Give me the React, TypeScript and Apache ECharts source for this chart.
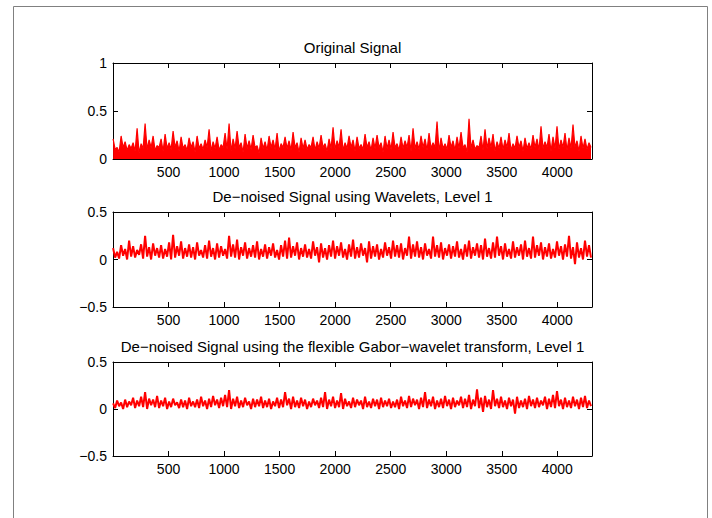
import React, { useEffect, useRef } from "react";
import * as echarts from "echarts";

const TITLES = [
  "Original Signal",
  "De\u2212noised Signal using Wavelets, Level 1",
  "De\u2212noised Signal using the flexible Gabor\u2212wavelet transform, Level 1",
];

const X_MIN = 0;
const X_MAX = 4312;
const X_INTERVAL = 500;
const SAMPLE_STEP = 18;

const Y_RANGES: [number, number][] = [
  [0, 1],
  [-0.5, 0.5],
  [-0.5, 0.5],
];

// Original signal (alternating local peak / local trough, every 18 samples)
const ORIGINAL = [
  0.21, 0.10, 0.12, 0.07, 0.24, 0.12, 0.18, 0.09, 0.15, 0.11,
  0.17, 0.08, 0.32, 0.06, 0.16, 0.11, 0.37, 0.10, 0.20, 0.12,
  0.24, 0.09, 0.14, 0.12, 0.21, 0.08, 0.26, 0.11, 0.17, 0.10,
  0.29, 0.12, 0.19, 0.08, 0.23, 0.11, 0.15, 0.09, 0.22, 0.12,
  0.18, 0.07, 0.24, 0.11, 0.16, 0.10, 0.20, 0.12, 0.31, 0.08,
  0.18, 0.11, 0.23, 0.09, 0.15, 0.12, 0.27, 0.10, 0.37, 0.08,
  0.21, 0.11, 0.29, 0.12, 0.17, 0.07, 0.26, 0.11, 0.19, 0.10,
  0.25, 0.12, 0.14, 0.06, 0.22, 0.11, 0.18, 0.09, 0.24, 0.12,
  0.20, 0.10, 0.27, 0.08, 0.16, 0.12, 0.23, 0.11, 0.19, 0.09,
  0.28, 0.12, 0.17, 0.07, 0.22, 0.11, 0.20, 0.10, 0.15, 0.12,
  0.23, 0.09, 0.18, 0.11, 0.25, 0.12, 0.16, 0.08, 0.21, 0.11,
  0.33, 0.10, 0.19, 0.12, 0.31, 0.09, 0.17, 0.11, 0.24, 0.12,
  0.20, 0.08, 0.23, 0.11, 0.15, 0.10, 0.26, 0.12, 0.18, 0.09,
  0.22, 0.11, 0.25, 0.12, 0.17, 0.07, 0.24, 0.11, 0.20, 0.10,
  0.28, 0.12, 0.16, 0.09, 0.23, 0.11, 0.19, 0.12, 0.25, 0.08,
  0.32, 0.11, 0.18, 0.10, 0.24, 0.12, 0.21, 0.09, 0.27, 0.11,
  0.17, 0.12, 0.39, 0.08, 0.22, 0.11, 0.16, 0.10, 0.25, 0.12,
  0.19, 0.09, 0.23, 0.11, 0.28, 0.12, 0.15, 0.07, 0.42, 0.11,
  0.20, 0.10, 0.14, 0.12, 0.24, 0.09, 0.31, 0.11, 0.22, 0.12,
  0.26, 0.08, 0.18, 0.11, 0.23, 0.10, 0.20, 0.12, 0.27, 0.09,
  0.16, 0.11, 0.24, 0.12, 0.19, 0.08, 0.22, 0.11, 0.17, 0.10,
  0.25, 0.12, 0.21, 0.09, 0.34, 0.11, 0.18, 0.12, 0.26, 0.08,
  0.23, 0.11, 0.34, 0.10, 0.20, 0.12, 0.27, 0.09, 0.22, 0.11,
  0.36, 0.12, 0.19, 0.08, 0.24, 0.11, 0.21, 0.10, 0.17, 0.12,
];

// De-noised with wavelets
const WAVELET = [
  0.12, 0.02, 0.08, 0.01, 0.15, 0.04, 0.11, 0.00, 0.20, 0.03,
  0.14, 0.02, 0.10, 0.05, 0.16, 0.01, 0.25, 0.03, 0.13, 0.00,
  0.17, 0.04, 0.12, 0.02, 0.15, 0.01, 0.11, 0.03, 0.18, 0.00,
  0.26, 0.02, 0.14, 0.04, 0.19, 0.01, 0.12, 0.03, 0.16, 0.02,
  0.13, 0.00, 0.18, 0.04, 0.10, 0.02, 0.15, 0.01, 0.20, 0.03,
  0.12, 0.00, 0.17, 0.02, 0.14, 0.04, 0.11, 0.01, 0.25, 0.03,
  0.16, 0.02, 0.21, 0.00, 0.13, 0.04, 0.18, 0.01, 0.12, 0.03,
  0.15, 0.02, 0.19, 0.00, 0.11, 0.03, 0.16, 0.01, 0.13, 0.04,
  0.17, 0.02, 0.10, 0.00, 0.15, 0.03, 0.20, 0.01, 0.23, 0.02,
  0.14, 0.04, 0.18, 0.00, 0.12, 0.03, 0.16, 0.02, 0.11, 0.01,
  0.19, 0.04, 0.13, -0.03, 0.17, 0.02, 0.12, 0.00, 0.15, 0.03,
  0.20, 0.01, 0.14, 0.04, 0.18, 0.02, 0.11, 0.00, 0.16, 0.03,
  0.21, 0.01, 0.13, 0.02, 0.17, 0.04, 0.12, -0.03, 0.19, 0.01,
  0.14, 0.03, 0.16, 0.00, 0.11, 0.02, 0.18, 0.04, 0.13, 0.01,
  0.20, 0.03, 0.15, 0.02, 0.17, 0.00, 0.12, 0.04, 0.24, 0.01,
  0.16, 0.03, 0.19, 0.02, 0.13, 0.00, 0.17, 0.04, 0.11, 0.01,
  0.24, 0.03, 0.15, 0.02, 0.18, 0.00, 0.12, 0.04, 0.16, 0.01,
  0.14, 0.03, 0.19, 0.02, 0.11, 0.00, 0.16, 0.03, 0.20, 0.01,
  0.13, 0.04, 0.17, 0.02, 0.15, 0.00, 0.22, 0.03, 0.12, 0.01,
  0.18, 0.02, 0.24, 0.04, 0.14, 0.00, 0.17, 0.03, 0.11, 0.01,
  0.19, 0.02, 0.13, 0.04, 0.16, 0.00, 0.20, 0.03, 0.12, 0.01,
  0.24, 0.02, 0.15, 0.04, 0.18, 0.00, 0.13, 0.03, 0.17, 0.01,
  0.11, 0.02, 0.19, 0.04, 0.14, 0.00, 0.16, 0.03, 0.25, 0.01,
  0.13, -0.05, 0.18, 0.02, 0.12, 0.00, 0.20, 0.03, 0.15, 0.02,
];

// De-noised with the flexible Gabor-wavelet transform
const GABOR = [
  0.06, 0.01, 0.09, 0.03, 0.07, 0.00, 0.10, 0.02, 0.08, 0.04,
  0.12, 0.01, 0.09, 0.03, 0.13, 0.02, 0.18, 0.00, 0.11, 0.04,
  0.10, 0.02, 0.14, 0.01, 0.09, 0.03, 0.12, 0.00, 0.08, 0.02,
  0.11, 0.04, 0.07, 0.01, 0.10, 0.02, 0.09, 0.00, 0.12, 0.03,
  0.08, 0.02, 0.10, 0.01, 0.13, 0.03, 0.09, 0.00, 0.11, 0.02,
  0.14, 0.04, 0.10, 0.01, 0.12, 0.03, 0.15, 0.02, 0.20, 0.00,
  0.11, 0.03, 0.13, 0.01, 0.09, 0.02, 0.12, 0.04, 0.08, 0.00,
  0.11, 0.02, 0.10, 0.03, 0.13, 0.01, 0.09, 0.02, 0.11, 0.00,
  0.08, 0.03, 0.12, 0.01, 0.10, 0.02, 0.18, 0.04, 0.11, 0.00,
  0.13, 0.02, 0.09, 0.01, 0.12, 0.03, 0.10, 0.00, 0.08, 0.02,
  0.11, 0.04, 0.09, 0.01, 0.12, 0.02, 0.18, 0.00, 0.10, 0.03,
  0.13, 0.01, 0.09, 0.02, 0.17, 0.00, 0.11, 0.03, 0.08, 0.01,
  0.12, 0.02, 0.10, 0.04, 0.09, 0.00, 0.13, 0.02, 0.08, 0.01,
  0.11, 0.03, 0.10, 0.00, 0.12, 0.02, 0.09, 0.03, 0.11, 0.01,
  0.08, 0.02, 0.10, 0.00, 0.13, 0.03, 0.09, 0.01, 0.14, 0.02,
  0.11, 0.04, 0.10, 0.00, 0.12, 0.02, 0.18, 0.01, 0.10, 0.03,
  0.13, 0.00, 0.09, 0.02, 0.11, 0.01, 0.14, 0.03, 0.10, 0.00,
  0.12, 0.02, 0.09, 0.04, 0.13, 0.01, 0.11, 0.02, 0.15, 0.00,
  0.10, 0.03, 0.21, 0.01, 0.12, -0.03, 0.14, 0.02, 0.10, 0.00,
  0.20, 0.03, 0.11, 0.01, 0.13, 0.02, 0.09, 0.00, 0.12, 0.03,
  0.10, -0.05, 0.13, 0.01, 0.09, 0.02, 0.11, 0.00, 0.14, 0.03,
  0.10, 0.01, 0.12, 0.02, 0.09, 0.04, 0.13, 0.00, 0.11, 0.02,
  0.15, 0.01, 0.19, 0.03, 0.10, 0.00, 0.12, 0.02, 0.09, 0.01,
  0.13, 0.03, 0.10, 0.00, 0.12, 0.02, 0.14, 0.01, 0.09, 0.03,
];

const SERIES_VALUES = [ORIGINAL, WAVELET, GABOR];

const GRIDS = [
  { left: 113, top: 63, width: 479, height: 96 },
  { left: 113, top: 212, width: 479, height: 95 },
  { left: 113, top: 362, width: 479, height: 94 },
];

const FONT = "Arial, 'Liberation Sans', Helvetica, sans-serif";

function toPoints(values: number[]) {
  return values.map((v, i) => [1 + i * SAMPLE_STEP, v]);
}

function fmtY(v: number) {
  const r = Math.round(v * 100) / 100;
  if (r < 0) return "\u2212" + String(-r);
  return String(r);
}

export default function App() {
  const ref = useRef<HTMLDivElement>(null);

  useEffect(() => {
    document.body.style.margin = "0";
    if (!ref.current) return;
    const chart = echarts.init(ref.current, undefined, { renderer: "svg" });

    const xAxis: any[] = [];
    const yAxis: any[] = [];
    const series: any[] = [];
    const graphic: any[] = [];

    GRIDS.forEach((g, gi) => {
      const common = {
        type: "value",
        gridIndex: gi,
        min: X_MIN,
        max: X_MAX,
        interval: X_INTERVAL,
        axisLine: { show: true, onZero: false, lineStyle: { color: "#000", width: 1 } },
        axisTick: { show: true, inside: true, length: 5, lineStyle: { color: "#000", width: 1 } },
        splitLine: { show: false },
      };
      xAxis.push({
        ...common,
        position: "bottom",
        axisLabel: {
          show: true,
          color: "#000",
          fontSize: 14,
          fontFamily: FONT,
          margin: 6,
          formatter: (v: number) => (v > 0 && v % X_INTERVAL === 0 ? String(v) : ""),
        },
      });
      xAxis.push({ ...common, position: "top", axisLabel: { show: false } });

      const [ymin, ymax] = Y_RANGES[gi];
      const ycommon = {
        type: "value",
        gridIndex: gi,
        min: ymin,
        max: ymax,
        interval: 0.5,
        axisLine: { show: true, onZero: false, lineStyle: { color: "#000", width: 1 } },
        axisTick: { show: true, inside: true, length: 5, lineStyle: { color: "#000", width: 1 } },
        splitLine: { show: false },
      };
      yAxis.push({
        ...ycommon,
        position: "left",
        axisLabel: {
          show: true,
          color: "#000",
          fontSize: 14,
          fontFamily: FONT,
          margin: 6,
          formatter: fmtY,
        },
      });
      yAxis.push({ ...ycommon, position: "right", axisLabel: { show: false } });

      series.push({
        type: "line",
        xAxisIndex: gi * 2,
        yAxisIndex: gi * 2,
        data: toPoints(SERIES_VALUES[gi]),
        showSymbol: false,
        symbol: "none",
        lineStyle: { color: "#ff0000", width: gi === 0 ? 1.2 : 2 },
        areaStyle: gi === 0 ? { color: "#ff0000", opacity: 1, origin: "start" } : undefined,
        clip: true,
      });

      graphic.push({
        type: "text",
        x: g.left + g.width / 2,
        y: g.top - 16,
        style: {
          text: TITLES[gi],
          align: "center",
          verticalAlign: "middle",
          font: `15px ${FONT}`,
          fill: "#000",
        },
      });
    });

    graphic.push({
      type: "rect",
      shape: { x: 13.5, y: 6.5, width: 694, height: 530 },
      style: { fill: "none", stroke: "#808080", lineWidth: 1 },
      z: -1,
    });

    chart.setOption({
      animation: false,
      backgroundColor: "#fff",
      grid: GRIDS.map((g) => ({ ...g, containLabel: false })),
      xAxis,
      yAxis,
      series,
      graphic,
    });

    return () => chart.dispose();
  }, []);

  return <div ref={ref} style={{ width: 712, height: 518 }} />;
}
